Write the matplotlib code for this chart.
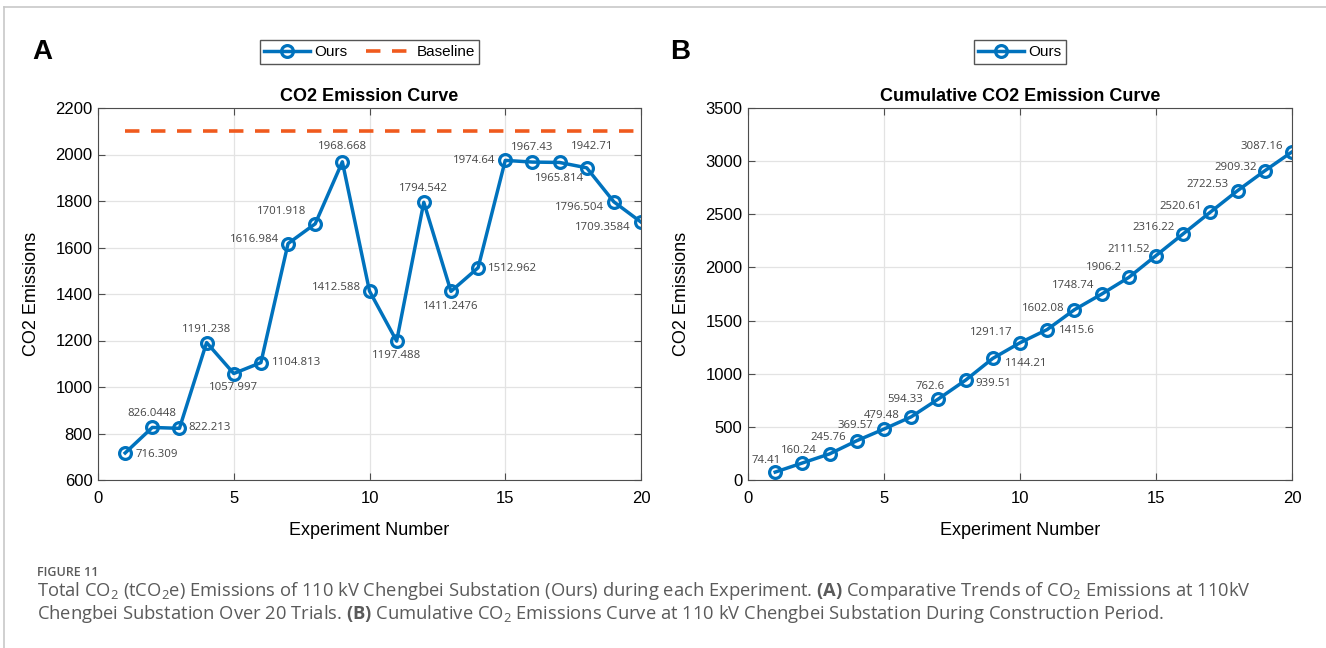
import matplotlib
matplotlib.use('Agg')
import matplotlib.pyplot as plt
from matplotlib.lines import Line2D
import numpy as np

plt.rcParams['font.family'] = ['Liberation Sans', 'DejaVu Sans']
plt.rcParams['mathtext.fontset'] = 'custom'
plt.rcParams['mathtext.rm'] = 'Open Sans'
plt.rcParams['mathtext.it'] = 'Open Sans:italic'
plt.rcParams['mathtext.bf'] = 'Open Sans:bold'

# data
experiments = list(range(1, 21))
ours = [716.309, 826.0448, 822.213, 1191.238, 1057.997, 1104.813, 1616.984,
        1701.918, 1968.668, 1412.588, 1197.488, 1794.542, 1411.2476, 1512.962,
        1974.64, 1967.43, 1965.814, 1942.71, 1796.504, 1709.3584]
ours_labels = ['716.309', '826.0448', '822.213', '1191.238', '1057.997', '1104.813',
               '1616.984', '1701.918', '1968.668', '1412.588', '1197.488', '1794.542',
               '1411.2476', '1512.962', '1974.64', '1967.43', '1965.814', '1942.71',
               '1796.504', '1709.3584']
baseline = 2100
cumulative = [74.41, 160.24, 245.76, 369.57, 479.48, 594.33, 762.6, 939.51,
              1144.21, 1291.17, 1415.6, 1602.08, 1748.74, 1906.2, 2111.52,
              2316.22, 2520.61, 2722.53, 2909.32, 3087.16]

# label offsets in pixels (dx, dy, ha)
offs_a = [(10, -2, 'left'), (0, 14, 'center'), (9, 1, 'left'), (0, 13, 'center'),
          (0, -14, 'center'), (11, 0, 'left'), (-9, 4, 'right'), (-9, 12, 'right'),
          (0, 15, 'center'), (-8, 4, 'right'), (0, -14, 'center'), (0, 14, 'center'),
          (0, -15, 'center'), (10, -1, 'left'), (-10, 0, 'right'), (0, 15, 'center'),
          (0, -16, 'center'), (6, 21, 'center'), (-10, -6, 'right'), (-10, -5, 'right')]
offs_b = [(-9, 12, 'center'), (-4, 12, 'center'), (-1, 16, 'center'), (-1, 15, 'center'),
          (-2, 14, 'center'), (-6, 17, 'center'), (-8, 12, 'center'), (10, -3, 'left'),
          (12, -5, 'left'), (-7, 10, 'right'), (12, -1, 'left'), (-10, 1, 'right'),
          (-7, 9, 'right'), (-7, 10, 'right'), (-6, 6, 'right'), (-9, 6, 'right'),
          (-9, 6, 'right'), (-9, 6, 'right'), (-8, 3, 'right'), (-9, 5, 'right')]

blue = '#0072BD'
orange = '#F05A1E'
W, H = 1326, 648

fig = plt.figure(figsize=(W / 100, H / 100), dpi=100)


def style_axes(ax):
    ax.grid(True, color='#e3e3e3', linewidth=0.9)
    ax.set_axisbelow(True)
    for s in ax.spines.values():
        s.set_color('#4d4d4d')
        s.set_linewidth(0.8)
    ax.tick_params(direction='in', length=5, width=0.8, color='#4d4d4d',
                   labelsize=12, top=True, right=True, pad=4)
    ax.tick_params(axis='x', pad=8)
    ax.set_xlim(0, 20)
    ax.set_xticks([0, 5, 10, 15, 20])
    ax.set_xlabel('Experiment Number', fontsize=13)
    ax.set_ylabel('CO2 Emissions', fontsize=13)
    ax.xaxis.set_label_coords(0.5, -0.113)
    ax.yaxis.set_label_coords(-0.107, 0.5)


def add_labels(ax, xs, ys, texts, offs):
    for x, y, t, (dx, dy, ha) in zip(xs, ys, texts, offs):
        ax.annotate(t, (x, y), xytext=(dx, dy), textcoords='offset pixels',
                    ha=ha, va='center', fontsize=8.2, color='#444444',
                    family=['Open Sans', 'DejaVu Sans'])


line_kw = dict(color=blue, linewidth=2.5, marker='o', markersize=8.5,
               markerfacecolor='none', markeredgewidth=2.3)

# panel A
ax1 = fig.add_axes([98 / W, 1 - 480 / H, 543 / W, 372 / H])
style_axes(ax1)
ax1.plot(experiments, ours, label='Ours', **line_kw)
ax1.plot([1, 20], [baseline, baseline], '--', color=orange, linewidth=2.6,
         dashes=(4, 3.2), label='Baseline')
ax1.set_ylim(600, 2200)
ax1.set_yticks(np.arange(600, 2201, 200))
ax1.set_title('CO2 Emission Curve', fontsize=13, fontweight='bold', pad=5)
add_labels(ax1, experiments, ours, ours_labels, offs_a)
ax1.legend(loc='center', bbox_to_anchor=(0.5, 428 / 372), ncol=2, fontsize=11,
           frameon=True, fancybox=False, edgecolor='#555555', framealpha=1,
           handlelength=3.0, columnspacing=1.2, borderpad=0.3, handletextpad=0.3)

# panel B
ax2 = fig.add_axes([748 / W, 1 - 480 / H, 544 / W, 372 / H])
style_axes(ax2)
ax2.plot(experiments, cumulative, label='Ours', **line_kw)
ax2.set_ylim(0, 3500)
ax2.set_yticks(np.arange(0, 3501, 500))
ax2.set_title('Cumulative CO2 Emission Curve', fontsize=13, fontweight='bold', pad=5)
add_labels(ax2, experiments, cumulative, ['%g' % v for v in cumulative], offs_b)
ax2.legend(loc='center', bbox_to_anchor=(0.5, 428 / 372), fontsize=11,
           frameon=True, fancybox=False, edgecolor='#555555', framealpha=1,
           handlelength=3.0, borderpad=0.3, handletextpad=0.3)

# panel letters
fig.text(32 / W, 1 - 52 / H, 'A', fontsize=20, fontweight='bold', va='center')
fig.text(670 / W, 1 - 52 / H, 'B', fontsize=20, fontweight='bold', va='center')

# frame
fig.add_artist(Line2D([4 / W, 4 / W], [0, 1 - 7 / H], color='#c8c8c8', linewidth=1.2))
fig.add_artist(Line2D([4 / W, 1], [1 - 7 / H, 1 - 7 / H], color='#c8c8c8', linewidth=1.2))

# caption
cap = dict(color='#5a5a5a', family=['Open Sans', 'DejaVu Sans'], va='center')
fig.text(37 / W, 1 - 572 / H, 'FIGURE 11', fontsize=9, fontweight='semibold', **cap)
fig.text(37 / W, 1 - 591 / H,
         'Total CO$_2$ (tCO$_2$e) Emissions of 110 kV Chengbei Substation (Ours) during each '
         'Experiment. $\\mathbf{(A)}$ Comparative Trends of CO$_2$ Emissions at 110kV',
         fontsize=13.2, **cap)
fig.text(37 / W, 1 - 614 / H,
         'Chengbei Substation Over 20 Trials. $\\mathbf{(B)}$ Cumulative CO$_2$ Emissions '
         'Curve at 110 kV Chengbei Substation During Construction Period.',
         fontsize=13.2, **cap)

fig.savefig('out.png', dpi=100)
